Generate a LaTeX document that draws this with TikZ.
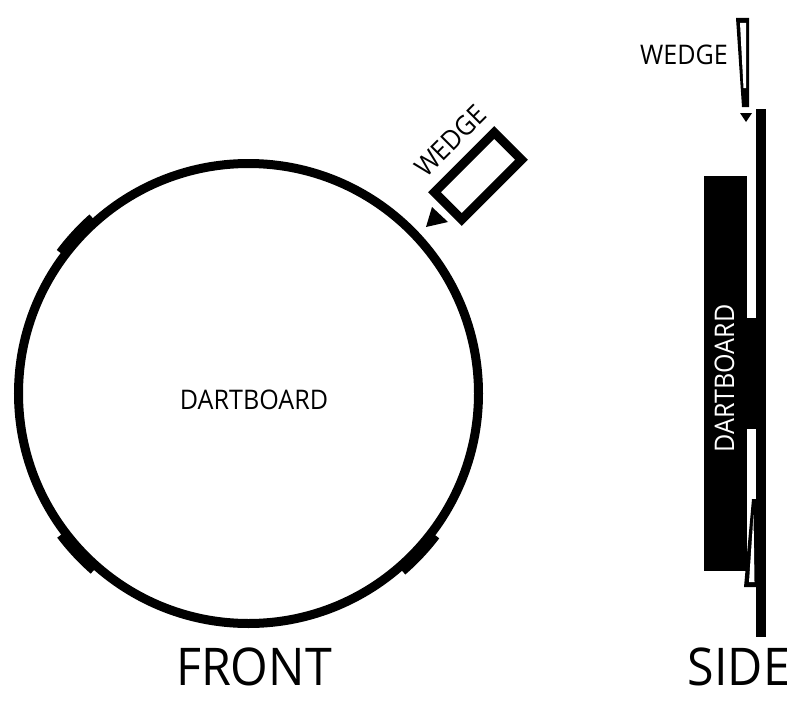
\documentclass[tikz,border=0pt]{standalone}
\usepackage{fontspec}
\usetikzlibrary{calc}
\setmainfont{Open Sans}
\tikzset{
  mount/.style={line width=11pt,draw=black},
  lbl/.style={inner sep=0pt,text=black},
  bigtitle/.style={lbl,font=\fontsize{52}{52}\selectfont,xscale=.93},
  smalltitle/.style={lbl,font=\fontsize{27}{27}\selectfont,xscale=.93}
}
\begin{document}
\begin{tikzpicture}[x=1pt,y=-1pt]
\useasboundingbox (0,0) rectangle (800,701);
% front view (y runs downwards, so angles run clockwise)
\node[circle,draw=black,line width=9pt,minimum size=460pt,inner sep=0pt] (board) at (248.5,393.5) {};
\coordinate (centre) at (248.5,393.5);
\draw[mount] ($(centre)+(216.8:234)$) arc[start angle=216.8,end angle=228.4,radius=234];
\draw[mount] ($(centre)+(131.2:234)$) arc[start angle=131.2,end angle=143,radius=234];
\draw[mount] ($(centre)+(37.2:234)$) arc[start angle=37.2,end angle=49.1,radius=234];
\node[smalltitle] (dartfront) at (254,400) {DARTBOARD};
\node[draw=black,line width=9pt,fill=white,minimum width=84.5pt,minimum height=38.5pt,inner sep=0pt,rotate=45] (wedgefront) at (478,176) {};
\fill (426,227) -- (432,207) -- (448,222) -- cycle;
\node[rotate=45,smalltitle] (wedgefrontlabel) at (450.5,141) {WEDGE};
% side view
\fill (756,109) rectangle (766,637);
\fill (704,176) rectangle (747,571);
\fill (747,318) rectangle (756,429);
\fill (736,18) -- (749,18) -- (749,107) -- (742,107) -- cycle;
\fill[white] (740,23) -- (746,23) -- (746,88) -- (743.5,88) -- cycle;
\fill (740,113) -- (752,113) -- (746,122) -- cycle;
\fill (752,499) -- (757,499) -- (757,587) -- (744,587) -- cycle;
\fill[white] (753.5,515) -- (754.5,582) -- (749,582) -- cycle;
\node[smalltitle] (wedgeside) at (684,54.5) {WEDGE};
\node[rotate=90,smalltitle,text=white] (dartside) at (724.5,378.5) {DARTBOARD};
\node[bigtitle] (front) at (254,667) {FRONT};
\node[bigtitle] (side) at (739,667) {SIDE};
\end{tikzpicture}
\end{document}
